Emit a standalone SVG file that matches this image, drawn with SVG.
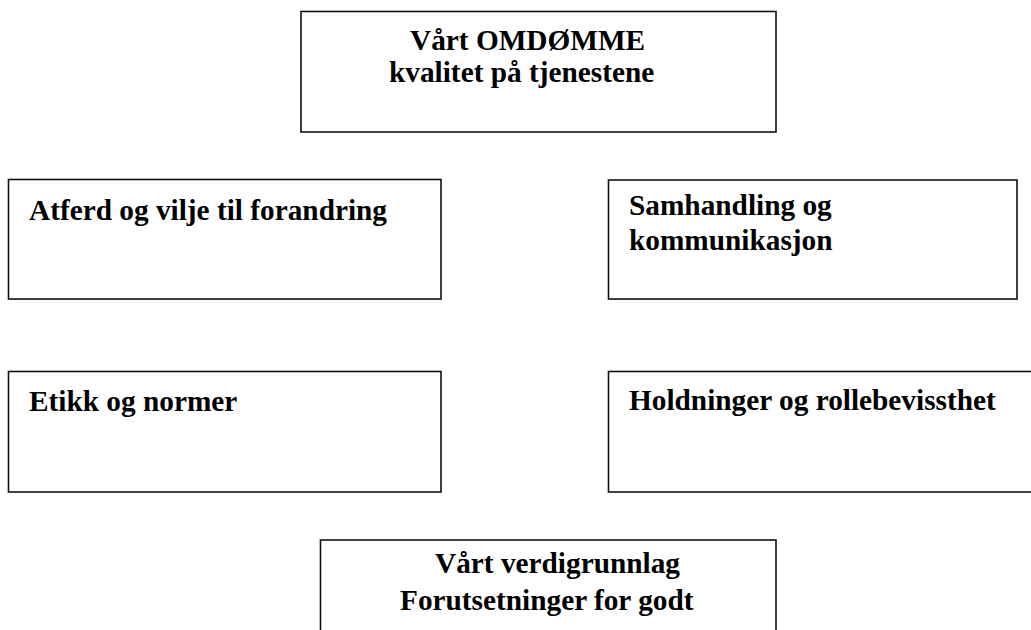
<svg xmlns="http://www.w3.org/2000/svg" width="1031" height="630" viewBox="0 0 1031 630">
<style>
.box{fill:#fff;stroke:#111;stroke-width:1.6}
text{font-family:'Liberation Serif','Times New Roman',serif;font-weight:bold;font-size:29.3px;fill:#000}
</style>
<rect width="1031" height="630" fill="#fff"/>
<g id="connectors"></g>
<g id="omdomme">
<rect class="box" x="301" y="11.5" width="475" height="120.5"/>
<text font-family="Liberation Serif, serif" x="410" y="50">Vårt OMDØMME</text>
<text font-family="Liberation Serif, serif" x="389" y="82">kvalitet på tjenestene</text>
</g>
<g id="atferd">
<rect class="box" x="8.5" y="179.5" width="432.5" height="119.5"/>
<text font-family="Liberation Serif, serif" x="29" y="220">Atferd og vilje til forandring</text>
</g>
<g id="samhandling">
<rect class="box" x="608.5" y="180" width="408.5" height="119"/>
<text font-family="Liberation Serif, serif" x="629" y="215">Samhandling og</text>
<text font-family="Liberation Serif, serif" x="629" y="250">kommunikasjon</text>
</g>
<g id="etikk">
<rect class="box" x="8.5" y="371.5" width="432.5" height="120.5"/>
<text font-family="Liberation Serif, serif" x="29" y="411">Etikk og normer</text>
</g>
<g id="holdninger">
<rect class="box" x="608.5" y="371.5" width="440" height="120.5"/>
<text font-family="Liberation Serif, serif" x="629" y="410">Holdninger og rollebevissthet</text>
</g>
<g id="verdigrunnlag">
<rect class="box" x="320.5" y="540" width="455.5" height="110"/>
<text font-family="Liberation Serif, serif" x="435" y="573">Vårt verdigrunnlag</text>
<text font-family="Liberation Serif, serif" x="400" y="610">Forutsetninger for godt</text>
</g>
</svg>
